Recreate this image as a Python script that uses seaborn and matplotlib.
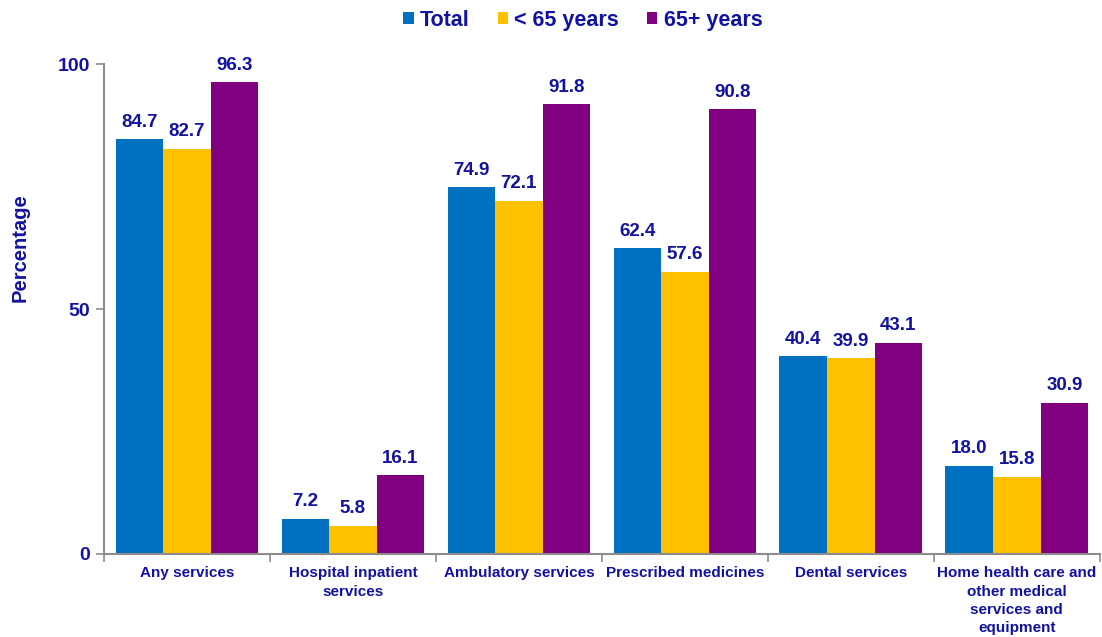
import matplotlib
matplotlib.use("Agg")
import matplotlib.pyplot as plt
import seaborn as sns
import pandas as pd
import numpy as np

categories = ["Any services", "Hospital inpatient\nservices", "Ambulatory services",
              "Prescribed medicines", "Dental services",
              "Home health care and\nother medical\nservices and\nequipment"]
groups = ["Total", "< 65 years", "65+ years"]
total = [84.7, 7.2, 74.9, 62.4, 40.4, 18.0]
under65 = [82.7, 5.8, 72.1, 57.6, 39.9, 15.8]
over65 = [96.3, 16.1, 91.8, 90.8, 43.1, 30.9]
colors = ["#0070C0", "#FFC000", "#800080"]
text_color = "#1212A0"

sns.set_style("white")
plt.rcParams["font.family"] = ["Liberation Sans", "DejaVu Sans"]
plt.rcParams["font.weight"] = "bold"

df = pd.DataFrame({
    "category": categories * 3,
    "group": [groups[0]] * 6 + [groups[1]] * 6 + [groups[2]] * 6,
    "value": total + under65 + over65,
})

fig = plt.figure(figsize=(11.02, 6.37), dpi=100)
ax = fig.add_axes([0.0944, 0.1303, 0.9036, 0.7692])
sns.barplot(data=df, x="category", y="value", hue="group", palette=colors,
            width=0.86, saturation=1, ax=ax, legend=True,
            linewidth=0, edgecolor="none")

for cont in ax.containers:
    ax.bar_label(cont, fmt="%.1f", padding=6, color=text_color,
                 fontsize=13.5, fontweight="bold")

ax.set_ylim(0, 100)
ax.set_xlim(-0.5, 5.5)
ax.set_yticks([0, 50, 100])
ax.set_yticklabels(["0", "50", "100"], fontsize=14, fontweight="bold", color=text_color)
ax.set_xticklabels(categories, fontsize=11, fontweight="bold", color=text_color,
                   linespacing=1.38)
ax.set_xlabel("")
ax.set_ylabel("Percentage", fontsize=14.5, fontweight="bold", color=text_color)
ax.yaxis.set_label_coords(-0.075, 0.625)

for s in ["top", "right"]:
    ax.spines[s].set_visible(False)
for s in ["left", "bottom"]:
    ax.spines[s].set_color("#8C8C8C")
    ax.spines[s].set_linewidth(1.5)

ax.tick_params(axis="y", left=True, length=6, width=1.2, color="#8C8C8C", pad=4)
ax.tick_params(axis="x", bottom=False, length=0, pad=9)
ax.set_xticks(np.arange(-0.5, 6.0, 1.0), minor=True)
ax.tick_params(axis="x", which="minor", bottom=True, length=6, width=1.2, color="#8C8C8C")

handles, labels = ax.get_legend_handles_labels()
ax.legend(handles, labels, loc="upper center", bbox_to_anchor=(0.529, 0.998),
          bbox_transform=fig.transFigure, ncol=3, frameon=False,
          prop={"size": 15.5, "weight": "bold"}, labelcolor=text_color,
          handlelength=0.47, handleheight=0.47, handletextpad=0.3, columnspacing=1.3,
          borderaxespad=0.0)

fig.savefig("out.png", dpi=100)
